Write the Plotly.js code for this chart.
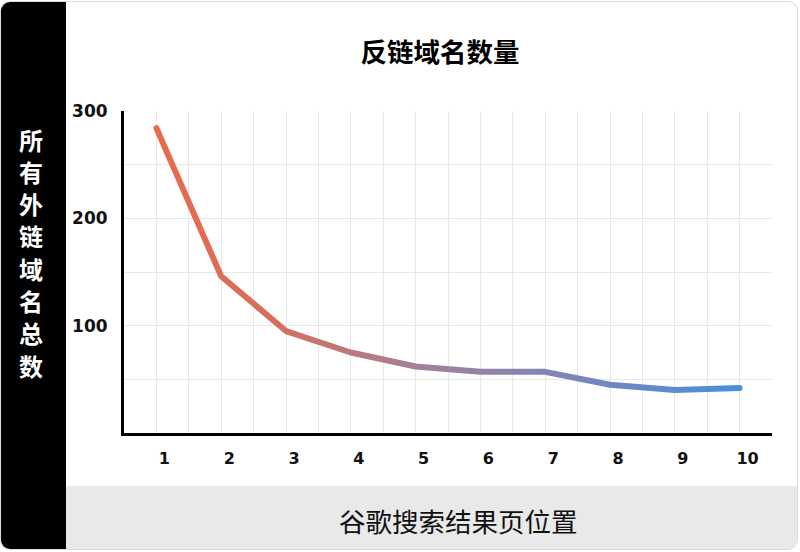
<!DOCTYPE html>
<html>
<head>
<meta charset="utf-8">
<script src="https://cdn.plot.ly/plotly-3.0.1.min.js"></script>
<style>
  html, body { margin: 0; padding: 0; background: #ffffff; }
  #card {
    position: absolute; left: 0; top: 1px; width: 796px; height: 547px;
    border: 1px solid #dcdcdc; border-radius: 10px; overflow: hidden; background: #fff;
  }
  #leftband { position: absolute; left: 0; top: 0; width: 65px; height: 100%; background: #000; }
  #bottomband { position: absolute; left: 65px; right: 0; bottom: 0; height: 63px; background: #e9e9e9; }
  #chart { position: absolute; left: 0; top: 0; width: 800px; height: 552px; }
</style>
</head>
<body>
<div id="card"><div id="leftband"></div><div id="bottomband"></div></div>
<svg width="0" height="0" style="position:absolute">
  <defs>
    <linearGradient id="lineGrad" x1="0" y1="0" x2="1" y2="0">
      <stop offset="0" stop-color="#e96a4b"/>
      <stop offset="0.2" stop-color="#d4705c"/>
      <stop offset="0.45" stop-color="#a5809a"/>
      <stop offset="1" stop-color="#4a8edc"/>
    </linearGradient>
  </defs>
</svg>
<div id="chart"></div>
<script>
const positions = [1, 2, 3, 4, 5, 6, 7, 8, 9, 10];
const referringDomains = [284, 146, 95, 75, 62, 57, 57, 45, 40, 42];
const yTickValues = [100, 200, 300];
const chartTitle = '反链域名数量';
const xTitle = '谷歌搜索结果页位置';
const yTitle = '所有外链域名总数';

const numFont = { family: 'DejaVu Sans', size: 16, color: '#111', weight: 'bold' };

const trace = {
  x: positions,
  y: referringDomains,
  type: 'scatter',
  mode: 'lines',
  line: { color: '#a5809a', width: 6 },
  hoverinfo: 'x+y'
};

// pixel -> paper helpers for label placement
const px = v => (v - 124) / 648;
const py = v => (433 - v) / 322;

const yTitleAnnotations = yTitle.split('').map((ch, i) => ({
  text: '<b>' + ch + '</b>',
  xref: 'paper', yref: 'paper',
  x: px(31), y: py(139 + i * 32.3),
  xanchor: 'center', yanchor: 'middle',
  showarrow: false,
  borderpad: 0,
  font: { family: 'Noto Sans CJK SC', size: 24, color: '#ffffff' }
}));

const layout = {
  width: 800, height: 552,
  margin: { l: 124, r: 28, t: 111, b: 119 },
  paper_bgcolor: 'rgba(0,0,0,0)',
  plot_bgcolor: 'rgba(0,0,0,0)',
  showlegend: false,
  title: {
    text: '<b>' + chartTitle + '</b>',
    font: { family: 'Noto Sans CJK SC', size: 26.5, color: '#000' },
    x: px(440), xref: 'paper', xanchor: 'center',
    y: 1 - 53 / 552, yref: 'container', yanchor: 'middle'
  },
  xaxis: {
    range: [0.5, 10.5],
    tickmode: 'array', tickvals: positions, ticktext: positions.map(String),
    showgrid: true, gridcolor: '#e8e8e8', gridwidth: 1,
    minor: { dtick: 0.5, tick0: 0.5, showgrid: true, gridcolor: '#e8e8e8', gridwidth: 1 },
    showline: true, linecolor: '#000', linewidth: 3,
    zeroline: false, ticks: '',
    tickfont: numFont,
    ticklabelstandoff: 9,
    ticklabelshift: 8,
    fixedrange: true
  },
  yaxis: {
    range: [0, 300],
    tickmode: 'array', tickvals: yTickValues, ticktext: yTickValues.map(String),
    showgrid: true, gridcolor: '#e8e8e8', gridwidth: 1,
    minor: { dtick: 50, tick0: 0, showgrid: true, gridcolor: '#e8e8e8', gridwidth: 1 },
    showline: true, linecolor: '#000', linewidth: 3,
    zeroline: false, ticks: '',
    tickfont: { family: 'DejaVu Sans', size: 17, color: '#111', weight: 'bold' },
    ticklabelstandoff: 10,
    fixedrange: true
  },
  annotations: [{
    text: xTitle,
    xref: 'paper', yref: 'paper',
    x: px(458), y: py(520),
    xanchor: 'center', yanchor: 'middle',
    showarrow: false,
    font: { family: 'Noto Sans CJK SC', size: 26.5, color: '#111' }
  }].concat(yTitleAnnotations)
};

Plotly.newPlot('chart', [trace], layout, { displayModeBar: false, staticPlot: true }).then(function () {
  document.querySelectorAll('#chart .scatterlayer path.js-line').forEach(function (p) {
    p.style.stroke = 'url(#lineGrad)';
    p.style.strokeLinecap = 'round';
    p.style.strokeLinejoin = 'round';
  });
});
</script>
</body>
</html>
